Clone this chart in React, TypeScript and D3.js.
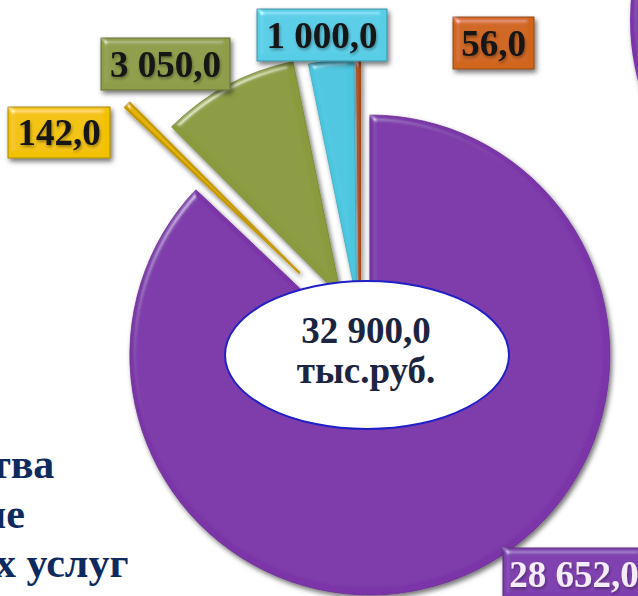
import React from "react";
import * as d3 from "d3";

// ---- data ----
const categories = ["Сегмент 1", "Сегмент 2", "Сегмент 3", "Сегмент 4", "Сегмент 5"];
const values = [28652.0, 142.0, 3050.0, 1000.0, 56.0];
const valueLabels = ["28 652,0", "142,0", "3 050,0", "1 000,0", "56,0"];
const totalLabel = "32 900,0";
const unitLabel = "тыс.руб.";
const sideTextLines = ["тва", "ие", "х услуг"];

// ---- styles / layout ----
const sliceColors = ["#7B36A8", "#E2B100", "#8A9B3E", "#4CC6E0", "#C0561A"];
const sliceStrokeWidths = [0.8, 2.2, 0.8, 0.8, 2.6];
const boxColors = ["#7D3CAE", "#F2C200", "#8E9D48", "#58CDE6", "#D0661C"];
const boxTextColors = ["#F4ECF8", "#141414", "#141414", "#141414", "#141414"];
const explodeDistances = [25, 85, 40, 33, 30];
const labelBoxes = [
  { x: 503, y: 548, w: 142, h: 52 },
  { x: 8, y: 107, w: 102, h: 51 },
  { x: 101, y: 38, w: 129, h: 52 },
  { x: 257, y: 9, w: 130, h: 52 },
  { x: 453, y: 17, w: 81, h: 52 },
];
const sideTextX = [-10, -18, -5];

const W = 638;
const H = 596;
const CX = 360;
const CY = 332;
const R = 240;
const FONT = "'Liberation Serif', 'Times New Roman', serif";

export default function App() {
  const pie = d3.pie<number>().sort(null).startAngle(0).endAngle(2 * Math.PI);
  const arcs = pie(values);
  const arcGen = d3.arc<d3.PieArcDatum<number>>().innerRadius(0).outerRadius(R);

  return (
    <svg
      width={W}
      height={H}
      viewBox={`0 0 ${W} ${H}`}
      style={{ position: "absolute", left: 0, top: 0, background: "#fff" }}
    >
      <defs>
        <filter id="bevel" filterUnits="userSpaceOnUse" x={-400} y={-400} width={1500} height={1500}>
          <feGaussianBlur in="SourceAlpha" stdDeviation="3" result="blur" />
          <feSpecularLighting
            in="blur"
            surfaceScale="4"
            specularConstant="0.75"
            specularExponent="40"
            lightingColor="#ffffff"
            result="spec"
          >
            <feDistantLight azimuth="235" elevation="40" />
          </feSpecularLighting>
          <feComposite in="spec" in2="SourceAlpha" operator="in" result="specIn" />
          <feComposite in="SourceGraphic" in2="specIn" operator="arithmetic" k1="0" k2="1" k3="0.6" k4="0" result="lit" />
          <feOffset in="SourceAlpha" dx="2" dy="3" result="off" />
          <feGaussianBlur in="off" stdDeviation="2.5" result="shBlur" />
          <feFlood floodColor="#000" floodOpacity="0.55" result="flood" />
          <feComposite in="flood" in2="shBlur" operator="in" result="shadow" />
          <feMerge>
            <feMergeNode in="shadow" />
            <feMergeNode in="lit" />
          </feMerge>
        </filter>
        <filter id="soft" filterUnits="userSpaceOnUse" x={-100} y={-100} width={900} height={800}>
          <feGaussianBlur in="SourceAlpha" stdDeviation="1.5" result="b" />
          <feOffset in="b" dx="1" dy="1.5" result="o" />
          <feFlood floodColor="#000" floodOpacity="0.35" />
          <feComposite in2="o" operator="in" result="s" />
          <feMerge>
            <feMergeNode in="s" />
            <feMergeNode in="SourceGraphic" />
          </feMerge>
        </filter>
      </defs>

      {/* edge of the neighbouring chart (cropped) */}
      <circle cx={870} cy={20} r={240} fill={sliceColors[0]} filter="url(#bevel)" />

      {/* pie slices */}
      {arcs.map((a, i) => {
        const mid = (a.startAngle + a.endAngle) / 2;
        const dx = Math.sin(mid) * explodeDistances[i];
        const dy = -Math.cos(mid) * explodeDistances[i];
        return (
          <path
            key={categories[i]}
            d={arcGen(a) || ""}
            transform={`translate(${CX + dx},${CY + dy})`}
            fill={sliceColors[i]}
            stroke={d3.color(sliceColors[i])!.darker(0.4).formatHex()}
            strokeWidth={sliceStrokeWidths[i]}
            strokeLinejoin="round"
            filter="url(#bevel)"
          />
        );
      })}

      {/* centre ellipse with total */}
      <ellipse cx={367} cy={355} rx={142} ry={74} fill="#ffffff" stroke="#2020C8" strokeWidth={2} />
      <text
        x={366}
        y={343}
        textAnchor="middle"
        fontFamily={FONT}
        fontWeight="bold"
        fontSize={37}
        fill="#1B2440"
      >
        {totalLabel}
      </text>
      <text
        x={366}
        y={383}
        textAnchor="middle"
        fontFamily={FONT}
        fontWeight="bold"
        fontSize={37}
        fill="#1B2440"
      >
        {unitLabel}
      </text>

      {/* value label boxes */}
      {labelBoxes.map((b, i) => (
        <g key={valueLabels[i]}>
          <rect
            x={b.x}
            y={b.y}
            width={b.w}
            height={b.h}
            fill={boxColors[i]}
            stroke={d3.color(boxColors[i])!.darker(1).formatHex()}
            strokeWidth={1}
            filter="url(#bevel)"
          />
          <text
            x={b.x + b.w / 2}
            y={b.y + b.h / 2 + 12.5}
            textAnchor="middle"
            fontFamily={FONT}
            fontWeight="bold"
            fontSize={37}
            fill={boxTextColors[i]}
            filter="url(#soft)"
          >
            {valueLabels[i]}
          </text>
        </g>
      ))}

      {/* cropped side caption */}
      {sideTextLines.map((t, i) => (
        <text
          key={t}
          x={sideTextX[i]}
          y={478 + i * 49.5}
          fontFamily={FONT}
          fontWeight="bold"
          fontSize={42}
          fill="#0E2A5E"
        >
          {t}
        </text>
      ))}
    </svg>
  );
}
